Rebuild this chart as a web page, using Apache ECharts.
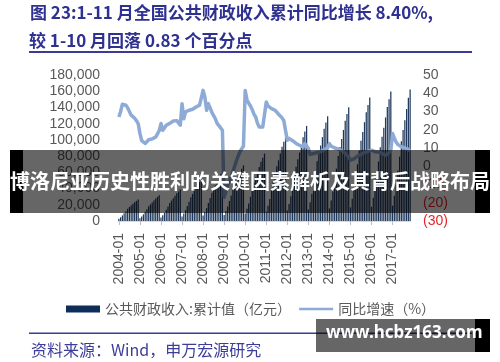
<!DOCTYPE html>
<html>
<head>
<meta charset="utf-8">
<script src="https://cdn.jsdelivr.net/npm/echarts@6/dist/echarts.min.js"></script>
<style>
html,body{margin:0;padding:0;background:#fff;}
#c{width:500px;height:362px;}
</style>
</head>
<body>
<div id="c"></div>
<script>
// ---- data ----
const years = [2004,2005,2006,2007,2008,2009,2010,2011,2012,2013,2014,2015,2016,2017];
const monthsLastYear = 11;

// cumulative public fiscal revenue (亿元), by year
const rev2004 = [2904,4751,6863,9503,12142,15046,17157,19005,21117,23228,24812,26396];
const rev2005 = [3481,5697,8229,11394,14559,18040,20572,22787,25319,27851,29750,31649];
const rev2006 = [4264,6977,10078,13954,17830,22093,25194,27907,31008,34109,36434,38760];
const rev2007 = [5645,9238,13344,18476,23608,29254,33359,36952,41058,45163,48243,51322];
const rev2008 = [6746,11039,15946,22079,28212,34958,39865,44158,49064,53970,57650,61330];
const rev2009 = [7537,12333,17815,24666,31518,39055,44537,49333,54814,60296,64407,68518];
const rev2010 = [9141,14958,21607,29917,38227,47368,54016,59833,66482,73130,78116,83102];
const rev2011 = [11426,18697,27007,37395,47782,59208,67518,74789,83099,91409,97642,103874];
const rev2012 = [12898,21106,30486,42211,53937,66835,76215,84423,93803,103184,110219,117254];
const rev2013 = [14213,23258,33595,46516,59437,73650,83987,93031,103368,113705,121457,129210];
const rev2014 = [15441,25267,36496,50533,64570,80011,91241,101066,112296,123526,131948,140370];
const rev2015 = [16750,27408,39590,54817,70044,86793,98975,109634,121815,133997,143133,152269];
const rev2016 = [17557,28729,41497,57458,73418,90975,103743,114916,127684,140452,150029,159605];
const rev2017 = [18982,31062,44867,62124,79381,98363,112169,124248,138054,151859,162213];

// cumulative YoY growth (%), by year
const g2004 = [27,30,34,35,33.5,32,30,28,27,26.3,25,23.4];
const g2005 = [18,14,13,12.5,13,14.5,15.2,15,14.5,16,17,19.5];
const g2006 = [23.4,19.7,21,22.5,23,23.5,24.3,24.8,25.2,25,24,22.5];
const g2007 = [34.3,26,29.8,30.5,30.7,30.7,31.2,31.8,32.5,33,33.5,34.3];
const g2008 = [41.6,38,30.7,34.3,32,29.5,28.9,26,23.5,22.5,21,19.7];
const g2009 = [-17,-14,-10,-9,-6,-3,0,3,5.5,8,9.6,11];
const g2010 = [41.5,36.5,34.5,33,31,28.5,27,23.5,21.5,21.5,21.5,21.3];
const g2011 = [35.2,33,32,31.6,31,30.7,30,28.5,27.9,26.5,25,24.5];
const g2012 = [14.2,15.3,14.5,14,13.3,12.5,12,11.5,11,10.6,12.4,12.8];
const g2013 = [9.7,6.5,6.9,7,7.2,7.5,7.8,8,8.5,9,9.3,10.1];
const g2014 = [12.4,11,10.5,10,9.7,9.5,9,8.5,8,7,6,5];
const g2015 = [3.3,3.1,4,5,5.5,6,6.5,7,7.5,7.8,8.2,8.8];
const g2016 = [8.8,8.5,8,8,7.8,7.5,7,6.5,6,6.5,7.5,8.8];
const g2017 = [17.9,15.5,13.3,12,11,10.6,10.3,10,9.7,9.2,8.4];

const leftTicks = {min:0, max:180000, interval:20000};
const rightTicks = {min:-30, max:50, interval:10};

const seriesBarName = '公共财政收入:累计值（亿元）';
const seriesLineName = '同比增速（%）';

// ---- build ----
const categories = [];
years.forEach((y, k) => {
  const n = (k === years.length - 1) ? monthsLastYear : 12;
  for (let m = 1; m <= n; m++) categories.push(y + '-' + (m < 10 ? '0' + m : m));
});
const revenue = [].concat(rev2004,rev2005,rev2006,rev2007,rev2008,rev2009,rev2010,rev2011,rev2012,rev2013,rev2014,rev2015,rev2016,rev2017);
const growth = [].concat(g2004,g2005,g2006,g2007,g2008,g2009,g2010,g2011,g2012,g2013,g2014,g2015,g2016,g2017);

const chart = echarts.init(document.getElementById('c'), null, {renderer:'canvas'});
const gray = '#595959';
const lineColor = '#8dabd6';
const isJan = (i) => i % 12 === 0;

chart.setOption({
  animation: false,
  backgroundColor: '#fff',
  textStyle: {fontFamily: 'Liberation Sans, Arial, sans-serif'},
  grid: {left: 118, right: 89, top: 75, bottom: 141, containLabel: false},
  legend: {
    left: 66, top: 302, padding: 0, itemGap: 7, itemWidth: 34, itemHeight: 7,
    textStyle: {color: gray, fontSize: 14, fontFamily: 'Noto Sans CJK SC, sans-serif'},
    data: [
      {name: seriesBarName, icon: 'rect', itemStyle: {color: '#0e2d58'}},
      {name: seriesLineName, itemStyle: {opacity: 0}, lineStyle: {width: 2.5, color: lineColor}}
    ]
  },
  xAxis: {
    type: 'category',
    data: categories,
    boundaryGap: true,
    axisLine: {show: true, lineStyle: {color: '#d9d9d9', width: 1}},
    axisTick: {show: true, alignWithLabel: true, interval: isJan, length: 4, lineStyle: {color: '#bfbfbf'}},
    axisLabel: {interval: isJan, rotate: 90, color: gray, fontSize: 14, margin: 12}
  },
  yAxis: [
    {
      type: 'value', position: 'left',
      min: leftTicks.min, max: leftTicks.max, interval: leftTicks.interval,
      splitLine: {show: false}, axisLine: {show: false}, axisTick: {show: false},
      axisLabel: {color: gray, fontSize: 14, margin: 18,
        formatter: (v) => v.toLocaleString('en-US')}
    },
    {
      type: 'value', position: 'right',
      min: rightTicks.min, max: rightTicks.max, interval: rightTicks.interval,
      splitLine: {show: false}, axisLine: {show: false}, axisTick: {show: false},
      axisLabel: {fontSize: 14, margin: 12,
        color: (v) => (Number(v) < 0 ? '#e3262b' : gray),
        formatter: (v) => (v < 0 ? '(' + (-v) + ')' : String(v))}
    }
  ],
  series: [
    {
      name: seriesBarName, type: 'bar', yAxisIndex: 0, data: revenue,
      barWidth: 1.25,
      itemStyle: {color: '#20395c'}
    },
    {
      name: seriesLineName, type: 'line', yAxisIndex: 1, data: growth,
      symbol: 'none', smooth: false,
      lineStyle: {color: lineColor, width: 3.5, join: 'round'},
      itemStyle: {color: lineColor}
    }
  ],
  graphic: [
    {type: 'text', left: 30, top: 4, z: 50,
      style: {text: '图 23:1-11 月全国公共财政收入累计同比增长 8.40%,', font: 'bold 17px "Noto Sans CJK SC", sans-serif', fill: '#2f3190'}},
    {type: 'text', left: 29, top: 32, z: 50,
      style: {text: '较 1-10 月回落 0.83 个百分点', font: 'bold 17px "Noto Sans CJK SC", sans-serif', fill: '#2f3190'}},
    {type: 'rect', z: 50, shape: {x: 29, y: 51, width: 443, height: 2}, style: {fill: '#3b3b97'}},
    {type: 'rect', z: 50, shape: {x: 29, y: 332.5, width: 443, height: 1.5}, style: {fill: '#3b3b97'}},
    {type: 'text', left: 31, top: 342, z: 50,
      style: {text: '资料来源：Wind，申万宏源研究', font: '16px "Noto Sans CJK SC", sans-serif', fill: '#3d3d99'}},
    // overlay banner 1
    {type: 'rect', z: 100, shape: {x: 10, y: 150, width: 13, height: 63}, style: {fill: '#000'}},
    {type: 'rect', z: 100, shape: {x: 23, y: 150, width: 452, height: 63}, style: {fill: 'rgba(0,0,0,0.6)'}},
    {type: 'rect', z: 100, shape: {x: 475, y: 150, width: 15, height: 63}, style: {fill: '#000'}},
    {type: 'text', z: 101, left: 'center', top: 171,
      style: {text: '博洛尼亚历史性胜利的关键因素解析及其背后战略布局', font: 'bold 20px "Noto Sans CJK SC", sans-serif', fill: '#fff'}},
    // overlay banner 2
    {type: 'rect', z: 100, shape: {x: 316, y: 319, width: 159, height: 33}, style: {fill: 'rgba(0,0,0,0.6)'}},
    {type: 'rect', z: 100, shape: {x: 475, y: 319, width: 15, height: 33}, style: {fill: '#000'}},
    {type: 'text', z: 101, left: 326, top: 325,
      style: {text: 'www.hcbz163.com', font: 'bold 17px "Noto Sans", sans-serif', fill: '#fff'}}
  ]
});
</script>
</body>
</html>
